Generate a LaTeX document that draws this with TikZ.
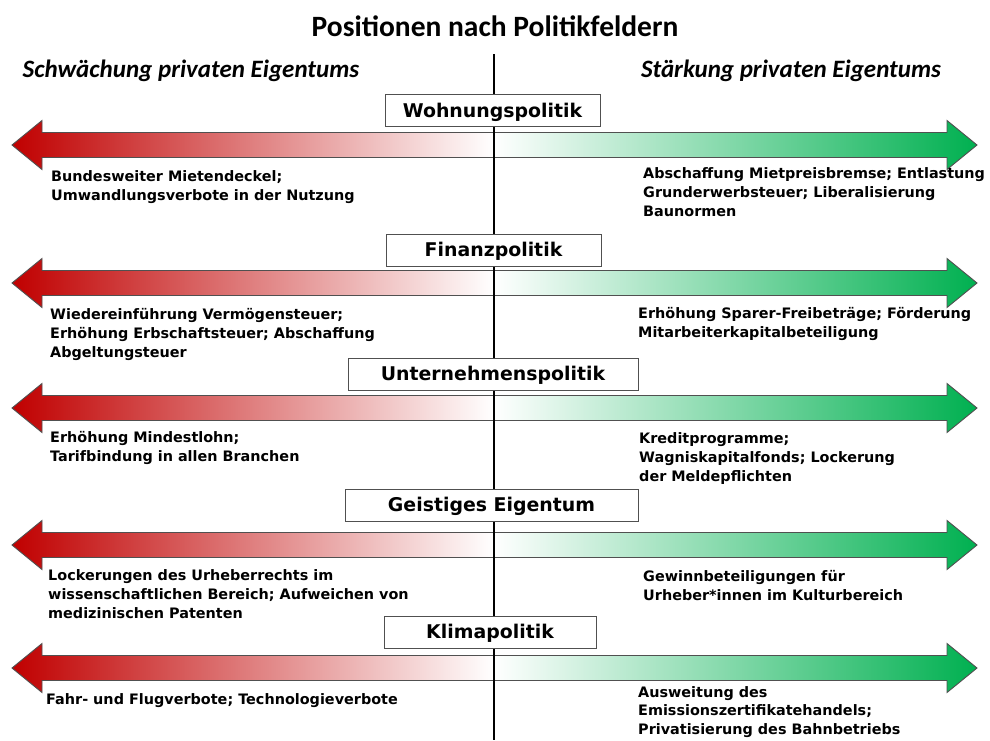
\documentclass[tikz,border=0pt]{standalone}
\usepackage{fontspec}
\newfontfamily\bodyfont{DejaVu Sans}
\newfontfamily\califont{Carlito}
\definecolor{redarrow}{HTML}{C00000}
\definecolor{greenarrow}{HTML}{00B050}
\definecolor{edgegray}{HTML}{505050}
\begin{document}
\begin{tikzpicture}[x=1pt,y=-1pt,
  fieldbox/.style={draw=edgegray,line width=0.9pt,fill=white,inner sep=0pt,
    minimum height=32pt,text height=18.3pt,text depth=4.5pt,
    font=\bodyfont\bfseries\fontsize{18.9}{21}\selectfont},
  bodytext/.style={inner sep=0pt,anchor=north west,align=left,
    font=\bodyfont\bfseries\fontsize{14.4}{19}\selectfont},
  sidetext/.style={inner sep=0pt,font=\califont\bfseries\itshape\fontsize{25}{28}\selectfont},
  arrowedge/.style={draw=edgegray,line width=0.9pt,line join=miter}]
\useasboundingbox (0,0) rectangle (990,740);
\fill[white] (0,0) rectangle (990,740);

% arrows
\foreach \yc in {145,283,408,545,668}{
  \shade[left color=redarrow,right color=white]
    (494,\yc-12.5) -- (42,\yc-12.5) -- (42,\yc-24.5) -- (12,\yc) -- (42,\yc+24.5) -- (42,\yc+12.5) -- (494,\yc+12.5) -- cycle;
  \draw[arrowedge]
    (494,\yc-12.5) -- (42,\yc-12.5) -- (42,\yc-24.5) -- (12,\yc) -- (42,\yc+24.5) -- (42,\yc+12.5) -- (494,\yc+12.5);
  \shade[left color=white,right color=greenarrow]
    (494,\yc-12.5) -- (947,\yc-12.5) -- (947,\yc-24.5) -- (977,\yc) -- (947,\yc+24.5) -- (947,\yc+12.5) -- (494,\yc+12.5) -- cycle;
  \draw[arrowedge]
    (494,\yc-12.5) -- (947,\yc-12.5) -- (947,\yc-24.5) -- (977,\yc) -- (947,\yc+24.5) -- (947,\yc+12.5) -- (494,\yc+12.5);
}

% central axis
\coordinate (axtop) at (494,54);
\coordinate (axbot) at (494,740);
\draw[line width=2pt,black] (axtop) -- (axbot);

% headings
\node[inner sep=0pt,font=\califont\bfseries\fontsize{29.5}{32}\selectfont] (title) at (495,26) {Positionen nach Politikfeldern};
\node[sidetext] (weak) at (191,71) {Schwächung privaten Eigentums};
\node[sidetext] (strong) at (791,71) {Stärkung privaten Eigentums};

% field boxes
\node[fieldbox,minimum width=215pt] (wohnung) at (492.5,110.5) {Wohnungspolitik};
\node[fieldbox,minimum width=215pt] (finanz) at (493.5,250) {Finanzpolitik};
\node[fieldbox,minimum width=290pt] (unternehmen) at (493,374) {Unternehmenspolitik};
\node[fieldbox,minimum width=293pt] (geist) at (491.5,505) {Geistiges Eigentum};
\node[fieldbox,minimum width=212pt] (klima) at (490,632) {Klimapolitik};

% positions
\node[bodytext] (w1) at (51,170) {Bundesweiter Mietendeckel;\\Umwandlungsverbote in der Nutzung};
\node[bodytext] (w2) at (643,167) {Abschaffung Mietpreisbremse; Entlastung\\Grunderwerbsteuer; Liberalisierung\\Baunormen};
\node[bodytext] (f1) at (50,308) {Wiedereinführung Vermögensteuer;\\Erhöhung Erbschaftsteuer; Abschaffung\\Abgeltungsteuer};
\node[bodytext] (f2) at (638,307) {Erhöhung Sparer-Freibeträge; Förderung\\Mitarbeiterkapitalbeteiligung};
\node[bodytext] (u1) at (50,431) {Erhöhung Mindestlohn;\\Tarifbindung in allen Branchen};
\node[bodytext] (u2) at (639,432) {Kreditprogramme;\\Wagniskapitalfonds; Lockerung\\der Meldepflichten};
\node[bodytext] (g1) at (48,569) {Lockerungen des Urheberrechts im\\wissenschaftlichen Bereich; Aufweichen von\\medizinischen Patenten};
\node[bodytext] (g2) at (643,570) {Gewinnbeteiligungen für\\Urheber*innen im Kulturbereich};
\node[bodytext] (k1) at (46,693) {Fahr- und Flugverbote; Technologieverbote};
\node[bodytext,font=\bodyfont\bfseries\fontsize{14.4}{18.5}\selectfont] (k2) at (638,686) {Ausweitung des\\Emissionszertifikatehandels;\\Privatisierung des Bahnbetriebs};
\end{tikzpicture}
\end{document}
